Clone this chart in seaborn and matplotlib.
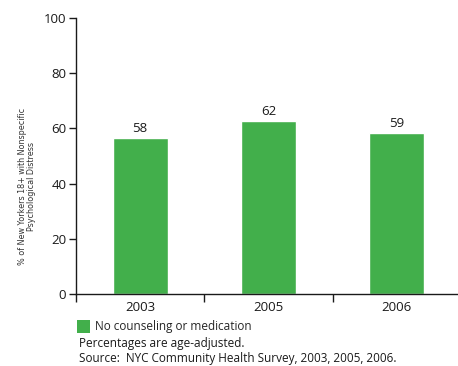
import matplotlib
matplotlib.use("Agg")
import matplotlib.pyplot as plt
from matplotlib.patches import Patch
import seaborn as sns
import pandas as pd

years = ["2003", "2005", "2006"]
bar_heights = [56.5, 62.7, 58.2]
bar_labels = ["58", "62", "59"]
series_name = "No counseling or medication"
y_ticks = [0, 20, 40, 60, 80, 100]
ylabel = "% of New Yorkers 18+ with Nonspecific\nPsychological Distress"
notes = ["Percentages are age-adjusted.",
         "Source:  NYC Community Health Survey, 2003, 2005, 2006."]

GREEN = "#42AF4B"
TXT = "#1a1a1a"
sns.set_theme(style="white")
plt.rcParams['font.family'] = ['Open Sans', 'DejaVu Sans']

df = pd.DataFrame({"year": years, "value": bar_heights})

fig = plt.figure(figsize=(4.58, 3.66), dpi=100)
ax = fig.add_axes([0.166, 0.197, 0.84, 0.754])
sns.barplot(data=df, x="year", y="value", color=GREEN, saturation=1,
            width=0.43, ax=ax)

for i, (h, lab) in enumerate(zip(bar_heights, bar_labels)):
    ax.text(i, h + 1.2, lab, ha="center", va="bottom", fontsize=9.5, color=TXT)

ax.set_xlim(-0.5, 2.5)
ax.set_ylim(0, 100)
ax.set_yticks(y_ticks)
ax.set_yticklabels([str(t) for t in y_ticks], fontsize=9.5, color=TXT)
ax.tick_params(axis="y", direction="out", length=5, width=1, color=TXT, pad=2, left=True)
ax.set_xticks(range(len(years)))
ax.set_xticklabels(years, fontsize=9.5, color=TXT)
ax.tick_params(axis="x", which="major", length=0, pad=5)
ax.set_xticks([-0.5, 0.5, 1.5, 2.5], minor=True)
ax.tick_params(axis="x", which="minor", direction="out", length=6, width=1, color=TXT, bottom=True)
ax.set_xlabel("")
ax.set_ylabel(ylabel, fontsize=5.8, family=['Liberation Sans Narrow', 'DejaVu Sans'],
              color="#333333", linespacing=1.05)
ax.yaxis.set_label_coords(-0.104, 0.39)

for s in ["top", "right"]:
    ax.spines[s].set_visible(False)
for s in ["left", "bottom"]:
    ax.spines[s].set_color(TXT)
    ax.spines[s].set_linewidth(1)

fig.legend(handles=[Patch(facecolor=GREEN, edgecolor="none", label=series_name)],
           loc="upper left", bbox_to_anchor=(0.168, 0.126), frameon=False,
           fontsize=8.5, handlelength=1.1, handleheight=1.3, handletextpad=0.4,
           borderaxespad=0, borderpad=0)
fig.text(0.172, 0.061, notes[0], fontsize=8.5, color=TXT, va="center")
fig.text(0.172, 0.021, notes[1], fontsize=8.5, color=TXT, va="center")

fig.savefig("out.png", dpi=100)
